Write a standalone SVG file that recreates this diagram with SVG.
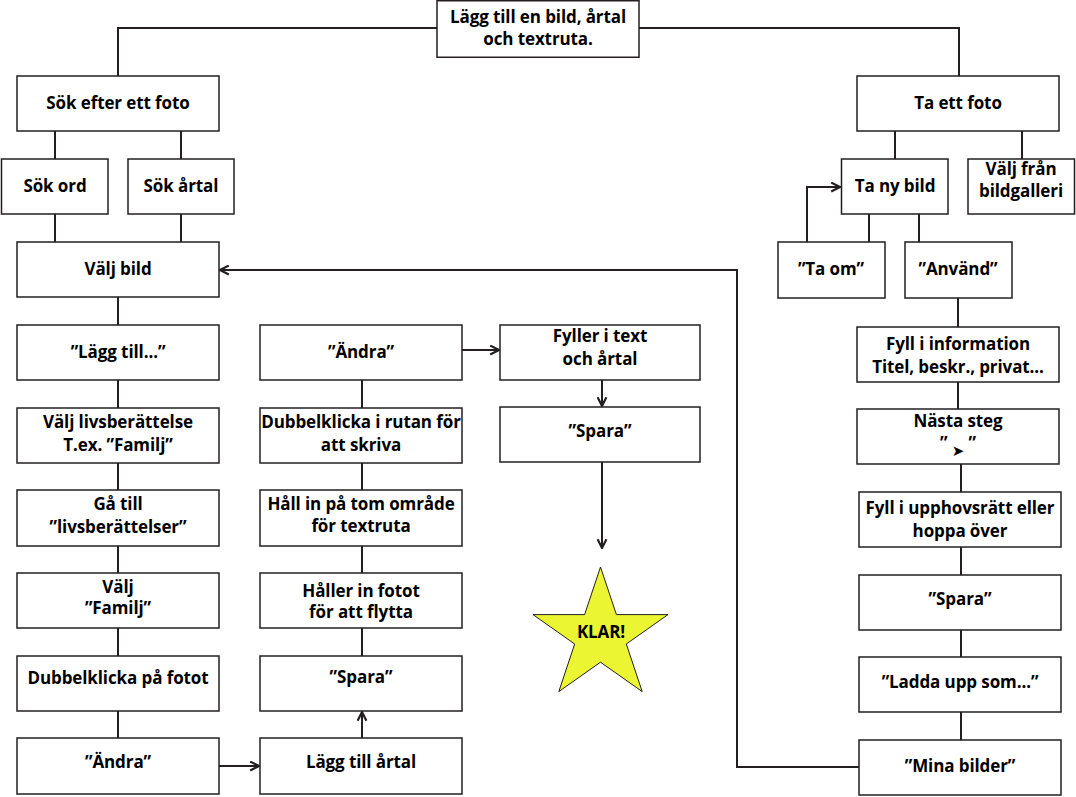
<svg xmlns="http://www.w3.org/2000/svg" width="1076" height="797" viewBox="0 0 1076 797">
<style>
.box{fill:#fff;stroke:#231f20;stroke-width:1.5}
.t{font-family:"Open Sans","Liberation Sans",sans-serif;font-weight:700;font-size:17px;fill:#000;text-anchor:middle;letter-spacing:-0.1px}
.c{fill:none;stroke:#231f20;stroke-width:2}
.star{fill:#ebf531;stroke:#231f20;stroke-width:1}
</style>
<defs>
<marker id="arr" viewBox="0 0 10 10" refX="9" refY="5" markerWidth="11" markerHeight="11" markerUnits="userSpaceOnUse" orient="auto">
<path d="M1,1 L9,5 L1,9" fill="none" stroke="#231f20" stroke-width="2"/>
</marker>
</defs>
<rect width="1076" height="797" fill="#fff"/>
<g id="connectors">
<path class="c" d="M437,28 H118 V76"/>
<path class="c" d="M639,28 H959 V76"/>
<path class="c" d="M55,131 V159 M181,131 V159 M55,214 V242 M181,214 V242"/>
<path class="c" d="M118,297 V325 M118,380 V408 M118,463 V490 M118,546 V573 M118,628 V656 M118,711 V738"/>
<path class="c" d="M219,766 H259" marker-end="url(#arr)"/>
<path class="c" d="M362,738 V712" marker-end="url(#arr)"/>
<path class="c" d="M362,380 V408 M362,463 V490 M362,546 V573 M362,628 V656"/>
<path class="c" d="M462,350 H499" marker-end="url(#arr)"/>
<path class="c" d="M602,380 V406" marker-end="url(#arr)"/>
<path class="c" d="M602,462 V548" marker-end="url(#arr)"/>
<path class="c" d="M895,131 V159 M1022,131 V159 M869,214 V242 M919,214 V242"/>
<path class="c" d="M807,242 V187 H840" marker-end="url(#arr)"/>
<path class="c" d="M958,298 V327 M958,382 V409 M961,464 V492 M961,547 V575 M961,630 V657 M961,712 V740"/>
<path class="c" d="M859,767 H737 V270 H220" marker-end="url(#arr)"/>
</g>
<g id="n-top"><rect class="box" x="437" y="0.75" width="202" height="56.5"/><text class="t" x="538" y="23">Lägg till en bild, årtal</text><text class="t" x="538" y="45">och textruta.</text></g>
<g id="n-sok"><rect class="box" x="17" y="76" width="202" height="55"/><text class="t" x="118" y="109">Sök efter ett foto</text></g>
<g id="n-sokord"><rect class="box" x="1.5" y="159" width="106.5" height="55"/><text class="t" x="55" y="192">Sök ord</text></g>
<g id="n-sokartal"><rect class="box" x="128" y="159" width="106" height="55"/><text class="t" x="181" y="192">Sök årtal</text></g>
<g id="n-valjbild"><rect class="box" x="17" y="242" width="202" height="55"/><text class="t" x="118" y="275">Välj bild</text></g>
<g id="n-laggtill"><rect class="box" x="17" y="325" width="202" height="55"/><text class="t" x="118" y="358">”Lägg till...”</text></g>
<g id="n-livs"><rect class="box" x="17" y="408" width="202" height="55"/><text class="t" x="118" y="428">Välj livsberättelse</text><text class="t" x="118" y="451">T.ex. ”Familj”</text></g>
<g id="n-gatill"><rect class="box" x="17" y="490" width="202" height="56"/><text class="t" x="118" y="510">Gå till</text><text class="t" x="118" y="533">”livsberättelser”</text></g>
<g id="n-familj"><rect class="box" x="17" y="573" width="202" height="55"/><text class="t" x="118" y="593">Välj</text><text class="t" x="118" y="614">”Familj”</text></g>
<g id="n-dubbel"><rect class="box" x="17" y="656" width="202" height="55"/><text class="t" x="118" y="684">Dubbelklicka på fotot</text></g>
<g id="n-andra2"><rect class="box" x="17" y="738" width="202" height="56"/><text class="t" x="118" y="768">”Ändra”</text></g>
<g id="n-andra1"><rect class="box" x="260" y="325" width="202" height="55"/><text class="t" x="361" y="358">”Ändra”</text></g>
<g id="n-dubbelruta"><rect class="box" x="260" y="408" width="202" height="55"/><text class="t" x="361" y="428">Dubbelklicka i rutan för</text><text class="t" x="361" y="451">att skriva</text></g>
<g id="n-hallin"><rect class="box" x="260" y="490" width="202" height="56"/><text class="t" x="361" y="510">Håll in på tom område</text><text class="t" x="361" y="532">för textruta</text></g>
<g id="n-haller"><rect class="box" x="260" y="573" width="202" height="55"/><text class="t" x="361" y="597">Håller in fotot</text><text class="t" x="361" y="618">för att flytta</text></g>
<g id="n-spara1"><rect class="box" x="260" y="656" width="202" height="55"/><text class="t" x="361" y="683">”Spara”</text></g>
<g id="n-artal"><rect class="box" x="260" y="738" width="202" height="56"/><text class="t" x="361" y="768">Lägg till årtal</text></g>
<g id="n-fyller"><rect class="box" x="500" y="325" width="200" height="55"/><text class="t" x="600" y="342">Fyller i text</text><text class="t" x="600" y="365">och årtal</text></g>
<g id="n-spara2"><rect class="box" x="500" y="407" width="200" height="55"/><text class="t" x="600" y="437">”Spara”</text></g>
<g id="n-klar"><polygon class="star" points="600.5,567 616.4,614.6 668,614.6 626.3,644 642.2,691.6 600.5,662.2 558.8,691.6 574.7,644 533,614.6 584.6,614.6"/><text class="t" x="601" y="638" style="font-size:17px">KLAR!</text></g>
<g id="n-taett"><rect class="box" x="857" y="76" width="202" height="55"/><text class="t" x="958" y="109">Ta ett foto</text></g>
<g id="n-tany"><rect class="box" x="841.5" y="159" width="106.5" height="55"/><text class="t" x="895" y="192">Ta ny bild</text></g>
<g id="n-galleri"><rect class="box" x="968" y="159" width="106.5" height="55"/><text class="t" x="1021" y="175">Välj från</text><text class="t" x="1021" y="197">bildgalleri</text></g>
<g id="n-taom"><rect class="box" x="778" y="242" width="107" height="56"/><text class="t" x="831" y="275">”Ta om”</text></g>
<g id="n-anvand"><rect class="box" x="905" y="242" width="107" height="56"/><text class="t" x="958" y="275">”Använd”</text></g>
<g id="n-info"><rect class="box" x="857" y="327" width="202" height="55"/><text class="t" x="958" y="350">Fyll i information</text><text class="t" x="958" y="373">Titel, beskr., privat...</text></g>
<g id="n-nasta"><rect class="box" x="857" y="409" width="202" height="55"/><text class="t" x="958" y="427">Nästa steg</text><text class="t" x="958" y="449">” <tspan dy="7" style="font-family:'DejaVu Sans',sans-serif;font-size:15px">➤</tspan><tspan dy="-7"> ”</tspan></text></g>
<g id="n-upphov"><rect class="box" x="859" y="492" width="202" height="55"/><text class="t" x="960" y="514">Fyll i upphovsrätt eller</text><text class="t" x="960" y="537">hoppa över</text></g>
<g id="n-spara3"><rect class="box" x="859" y="575" width="202" height="55"/><text class="t" x="960" y="605">”Spara”</text></g>
<g id="n-ladda"><rect class="box" x="859" y="657" width="202" height="55"/><text class="t" x="960" y="688">”Ladda upp som...”</text></g>
<g id="n-mina"><rect class="box" x="859" y="740" width="202" height="55"/><text class="t" x="960" y="772">”Mina bilder”</text></g>
</svg>
